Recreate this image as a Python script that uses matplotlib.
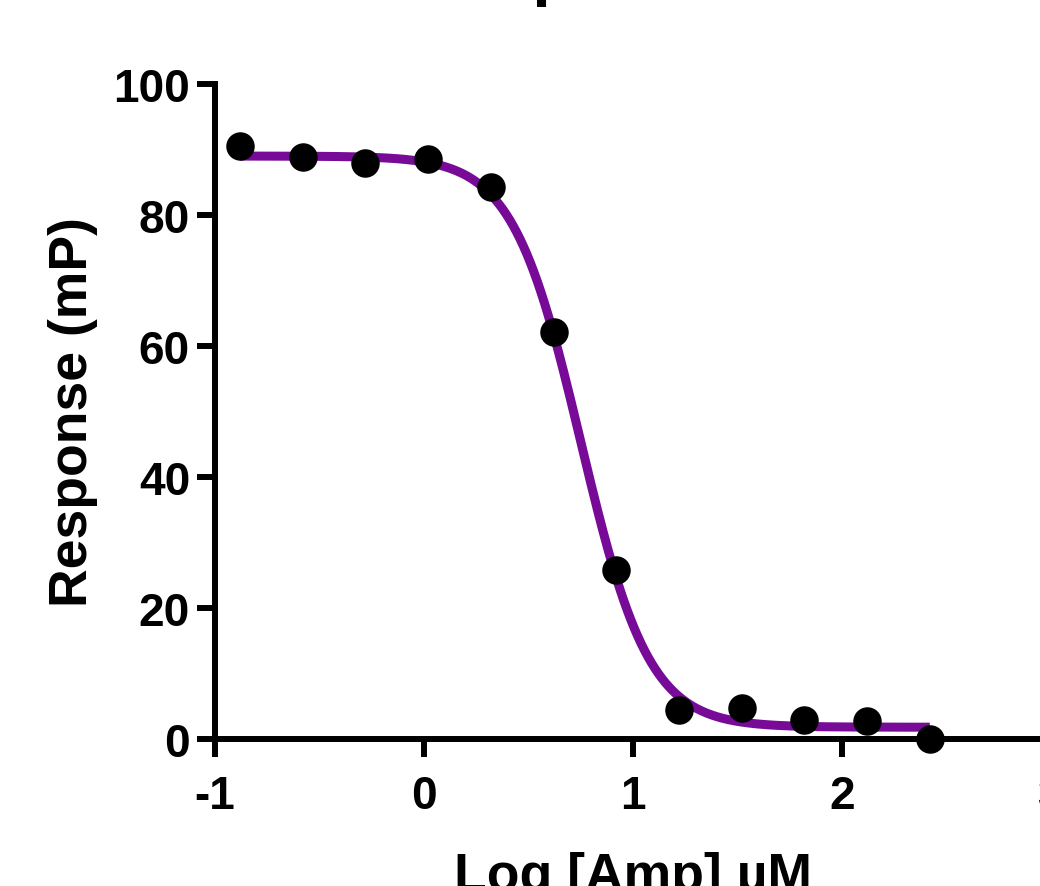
import numpy as np
import matplotlib
matplotlib.use('Agg')
import matplotlib.pyplot as plt

plt.rcParams['font.family'] = ['Liberation Sans', 'DejaVu Sans']
plt.rcParams['font.weight'] = 'bold'
plt.rcParams['axes.unicode_minus'] = False

# measured points
log_amp = [-0.88, -0.58, -0.28, 0.02, 0.32, 0.62, 0.92, 1.22, 1.52, 1.82, 2.12, 2.42]
response = [90.6, 88.8, 88.0, 88.6, 84.3, 62.2, 25.8, 4.4, 4.7, 2.9, 2.8, 0.0]

# fitted curve (4PL) parameters
top = 89.0
bottom = 1.8
log_ec50 = 0.75
hill = 2.65

xfit = np.linspace(log_amp[0], log_amp[-1], 400)
yfit = bottom + (top - bottom) / (1 + 10 ** ((xfit - log_ec50) * hill))

fig = plt.figure(figsize=(10.4, 8.87), dpi=100)
ax = fig.add_axes([215/1040, 147/887, 836/1040, 655/887])

ax.plot(xfit, yfit, color='#780A98', lw=6.5, solid_capstyle='butt', zorder=2)
ax.plot(log_amp, response, 'o', color='black', ms=19.5, clip_on=False, zorder=3)

ax.set_xlim(-1, 3)
ax.set_ylim(0, 100)
ax.set_xticks([-1, 0, 1, 2, 3])
ax.set_yticks([0, 20, 40, 60, 80, 100])

for s in ['top', 'right']:
    ax.spines[s].set_visible(False)
for s in ['left', 'bottom']:
    ax.spines[s].set_linewidth(4.3)
    ax.spines[s].set_capstyle('projecting')
ax.tick_params(width=4.3, length=13, labelsize=33, pad=5)
ax.tick_params(axis='x', pad=12)

ax.set_xlabel('Log [Amp] µM', fontsize=38.5, fontweight='bold', labelpad=24)
ax.set_ylabel('Response (mP)', fontsize=38.5, fontweight='bold', labelpad=11)

# title sits above the visible area, only the descender shows
fig.text(0.409, 1.0079, 'Amp', fontsize=48, fontweight='bold', va='baseline', ha='left')

fig.savefig('out.png', dpi=100)
